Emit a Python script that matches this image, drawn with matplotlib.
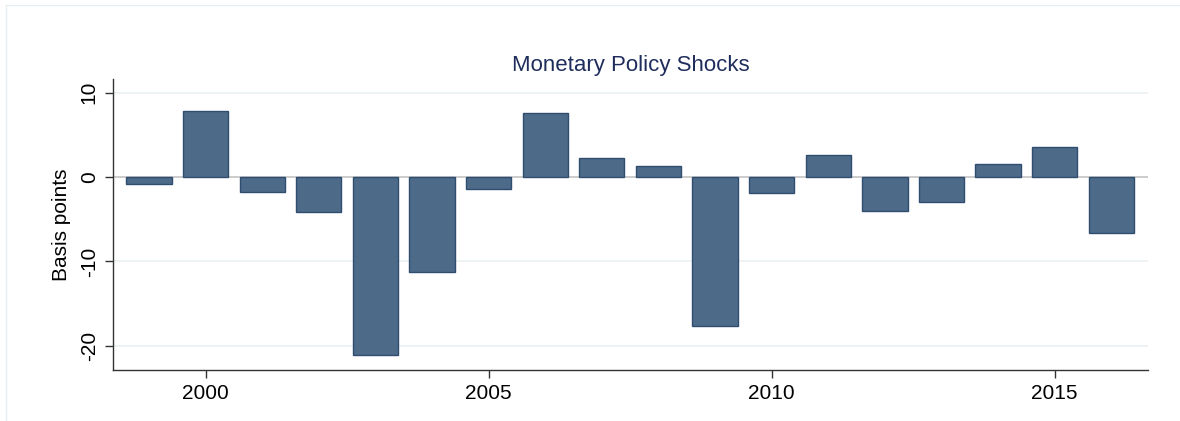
import matplotlib
matplotlib.use("Agg")
import matplotlib.pyplot as plt
from matplotlib.lines import Line2D

plt.rcParams['font.family'] = ['Liberation Sans', 'DejaVu Sans']
plt.rcParams['axes.unicode_minus'] = False

years = [1999, 2000, 2001, 2002, 2003, 2004, 2005, 2006, 2007,
         2008, 2009, 2010, 2011, 2012, 2013, 2014, 2015, 2016]
shocks = [-0.8, 7.8, -1.8, -4.2, -21.1, -11.3, -1.4, 7.6, 2.3,
          1.35, -17.6, -1.9, 2.6, -4.05, -2.9, 1.55, 3.5, -6.6]
xticks = [2000, 2005, 2010, 2015]
yticks = [-20, -10, 0, 10]

fig = plt.figure(figsize=(11.8, 4.21), dpi=100)
ax = fig.add_axes([0.0955, 0.1211, 0.8775, 0.6905])

# faint outer frame (top and left edges of the graph region)
fx = 5.5 / 1180
fy = 1 - 4.5 / 421
fig.add_artist(Line2D([fx, 1], [fy, fy], transform=fig.transFigure,
                      color='#e6edf0', linewidth=1))
fig.add_artist(Line2D([fx, fx], [0, fy], transform=fig.transFigure,
                      color='#e6edf0', linewidth=1))

ax.bar(years, shocks, width=0.8, color='#4e6a89', edgecolor='#2f4d70',
       linewidth=1, zorder=3)

for y in yticks:
    if y != 0:
        ax.axhline(y, color='#eaf1f2', linewidth=1.2, zorder=1)
ax.axhline(0, color='#c4c4c4', linewidth=1.2, zorder=2)

ax.set_xlim(1998.36, 2016.65)
ax.set_ylim(-22.87, 11.58)
ax.set_xticks(xticks)
ax.set_yticks(yticks)
ax.tick_params(axis='both', labelsize=15, length=6, width=1, color='#333333',
               pad=4)
for lab in ax.get_yticklabels():
    lab.set_rotation(90)
    lab.set_va('center')

for s in ['top', 'right']:
    ax.spines[s].set_visible(False)
for s in ['left', 'bottom']:
    ax.spines[s].set_color('#333333')
    ax.spines[s].set_linewidth(1)

ax.set_ylabel("Basis points", fontsize=15, labelpad=6)
ax.set_title("Monetary Policy Shocks", fontsize=16, color='#1f2d5c', pad=6)

fig.savefig("out.png", dpi=100)
